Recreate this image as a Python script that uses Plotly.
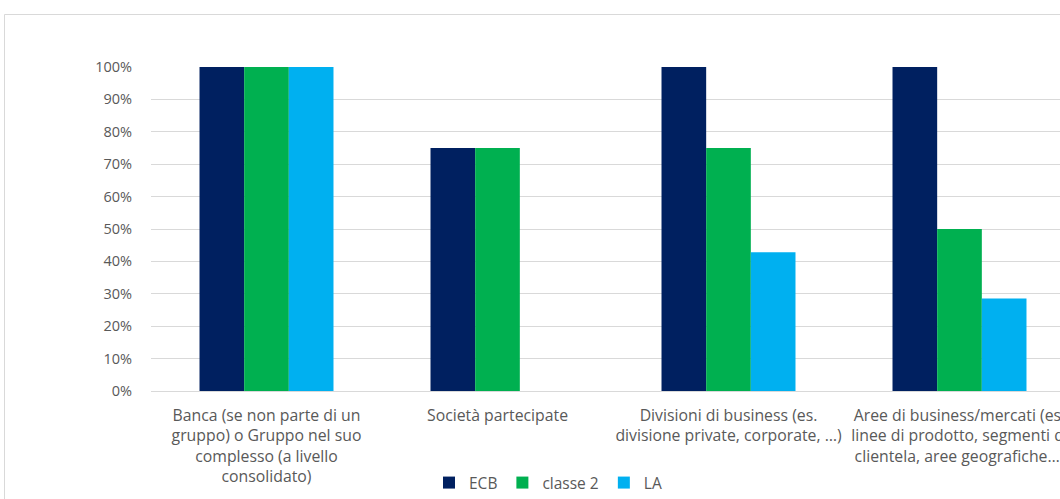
import plotly.graph_objects as go

categories = [
    "Banca (se non parte di un<br>gruppo) o Gruppo nel suo<br>complesso (a livello<br>consolidato)",
    "Società partecipate",
    "Divisioni di business (es.<br>divisione private, corporate, …)",
    "Aree di business/mercati (es.<br>linee di prodotto, segmenti di<br>clientela, aree geografiche…)",
]
ecb = [1.0, 0.75, 1.0, 1.0]
classe2 = [1.0, 0.75, 0.75, 0.5]
la = [1.0, 0.0, 0.4286, 0.2857]

series = [("ECB", ecb, "#002060"), ("classe 2", classe2, "#00B050"), ("LA", la, "#00B0F0")]

W, H = 1060, 499
L, R, T, B = 151, 0, 67, 108
FONT = "Open Sans"
GRAY = "#595959"

fig = go.Figure()
for name, vals, col in series:
    fig.add_trace(go.Bar(
        name=name, x=list(range(len(categories))), y=vals,
        marker=dict(color=col, line=dict(width=0)),
    ))

pw = W - L - R
ph = H - T - B
def px2x(px):
    return (px - L) / pw
def py2y(py):
    return (H - B - py) / ph

fig.update_layout(
    width=W, height=H, autosize=False,
    margin=dict(l=L, r=R, t=T, b=B, pad=0),
    paper_bgcolor="white", plot_bgcolor="white",
    barmode="group", bargap=0.42, bargroupgap=0,
    font=dict(family=FONT, size=15, color=GRAY),
    legend=dict(
        orientation="h", xref="container", yref="container",
        x=548 / W, xanchor="center", y=1 - 483 / H, yanchor="middle",
        font=dict(family=FONT, size=15.5, color=GRAY),
        itemwidth=30, traceorder="normal",
    ),
    xaxis=dict(
        tickmode="array", tickvals=list(range(len(categories))), ticktext=categories,
        range=[-0.5, -0.5 + pw / 231], showgrid=False, zeroline=False,
        showline=False, ticks="", automargin=False, ticklabeloverflow="allow",
        tickfont=dict(family=FONT, size=15.8, color=GRAY), ticklabelstandoff=13,
    ),
    yaxis=dict(
        range=[0, 1], tickvals=[i / 10 for i in range(11)], tickformat=".0%",
        showgrid=True, gridcolor="#D9D9D9", gridwidth=1,
        zeroline=True, zerolinecolor="#D9D9D9", zerolinewidth=1,
        showline=False, ticks="", automargin=False,
        tickfont=dict(family=FONT, size=14.5, color=GRAY), ticklabelstandoff=18,
    ),
    shapes=[dict(
        type="rect", xref="paper", yref="paper", layer="below",
        x0=px2x(4.5), x1=px2x(W + 50), y0=py2y(H + 50), y1=py2y(14.5),
        line=dict(color="#D9D9D9", width=1), fillcolor="rgba(0,0,0,0)",
    )],
)

fig.write_html(
    "out.html",
    config={"displayModeBar": False},
    post_script="document.body.style.margin='0';document.body.style.overflow='hidden';",
)
